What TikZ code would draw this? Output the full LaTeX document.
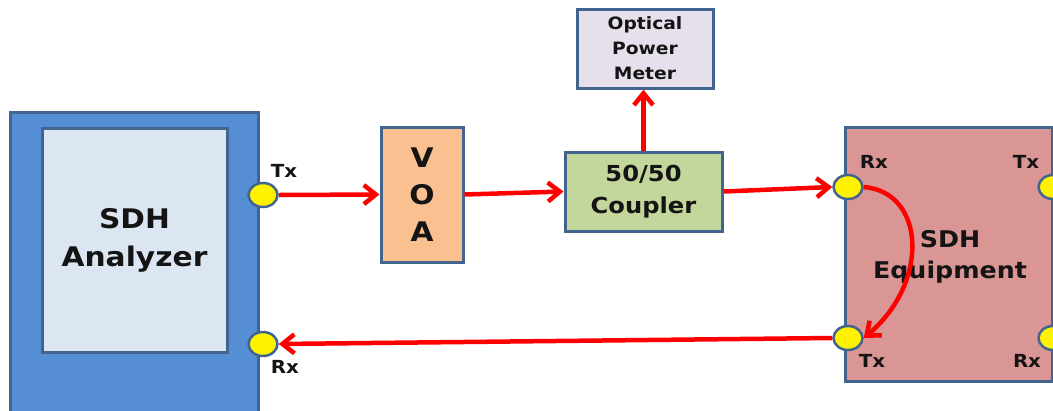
\documentclass[tikz,border=0pt]{standalone}
\usepackage{fontspec}
\setmainfont{DejaVu Sans}[FakeStretch=1.1]
\usetikzlibrary{arrows.meta,shapes.geometric}
\definecolor{bordc}{HTML}{41658E}
\definecolor{anout}{HTML}{558ED5}
\definecolor{anin}{HTML}{DCE6F2}
\definecolor{voac}{HTML}{FAC090}
\definecolor{coupc}{HTML}{C3D69B}
\definecolor{meterc}{HTML}{E6E0EC}
\definecolor{equipc}{HTML}{D99694}
\definecolor{txtc}{HTML}{141414}
\tikzset{
  box/.style={draw=bordc, line width=3pt, rectangle, inner sep=0pt, align=center, text=txtc},
  port/.style={draw=bordc, fill=yellow, line width=2.5pt, ellipse, minimum width=29pt, minimum height=24pt, inner sep=0pt},
  lbl/.style={text=txtc, font=\bfseries\fontsize{18}{20}\selectfont, inner sep=0pt},
  link/.style={draw=red, line width=4.5pt, -{Straight Barb[length=12pt,width=19pt]}},
}
\begin{document}
\begin{tikzpicture}[x=1pt,y=-1pt]
\useasboundingbox (0,0) rectangle (1053,410);
\clip (0,0) rectangle (1053,410);
% SDH Analyzer
\node[box, fill=anout, minimum width=248pt, minimum height=328pt] (anout) at (134,276) {};
\node[box, fill=anin, minimum width=185pt, minimum height=224pt,
      font=\bfseries\fontsize{27}{38}\selectfont] (anin) at (134.5,240) {SDH\\Analyzer};
% VOA
\node[box, fill=voac, minimum width=82pt, minimum height=135pt,
      font=\bfseries\fontsize{27}{37}\selectfont] (voa) at (422,194.5) {V\\O\\A};
% Coupler
\node[box, fill=coupc, minimum width=157pt, minimum height=79pt,
      font=\bfseries\fontsize{22}{32}\selectfont] (coup) at (643.5,191.5) {50/50\\Coupler};
% Optical power meter
\node[box, fill=meterc, minimum width=136pt, minimum height=79pt,
      font=\bfseries\fontsize{17}{25}\selectfont] (meter) at (645,48.5) {Optical\\Power\\Meter};
% SDH Equipment
\node[box, fill=equipc, minimum width=207pt, minimum height=254pt] (equip) at (948.5,254) {};
\node[text=txtc, font=\bfseries\fontsize{23}{31}\selectfont, align=center, inner sep=0pt] (eqtext) at (950,257) {SDH\\Equipment};
% ports
\node[port] (antx) at (263,195) {};
\node[port] (anrx) at (263,344) {};
\node[port] (eqrx) at (848,187) {};
\node[port] (eqtx) at (848,338) {};
\node[port] (eqtx2) at (1053,187) {};
\node[port] (eqrx2) at (1053,338) {};
% port labels
\node[lbl] (lantx) at (284,171) {Tx};
\node[lbl] (lanrx) at (285,367) {Rx};
\node[lbl] (leqrx) at (874,162) {Rx};
\node[lbl] (leqtx2) at (1026,162) {Tx};
\node[lbl] (leqtx) at (872,361) {Tx};
\node[lbl] (leqrx2) at (1027,361) {Rx};
% connectors
\draw[link] (antx.east) -- (voa.west);
\draw[link] (voa.east) -- (coup.west);
\draw[link] (coup.east) -- (eqrx.west);
\draw[link] (coup.north) -- (coup.north |- meter.south);
\draw[link] (eqtx.west) -- (anrx.east);
\draw[link] (eqrx.east) .. controls +(62,5) and +(66,-55) .. (eqtx.east);
\end{tikzpicture}
\end{document}
